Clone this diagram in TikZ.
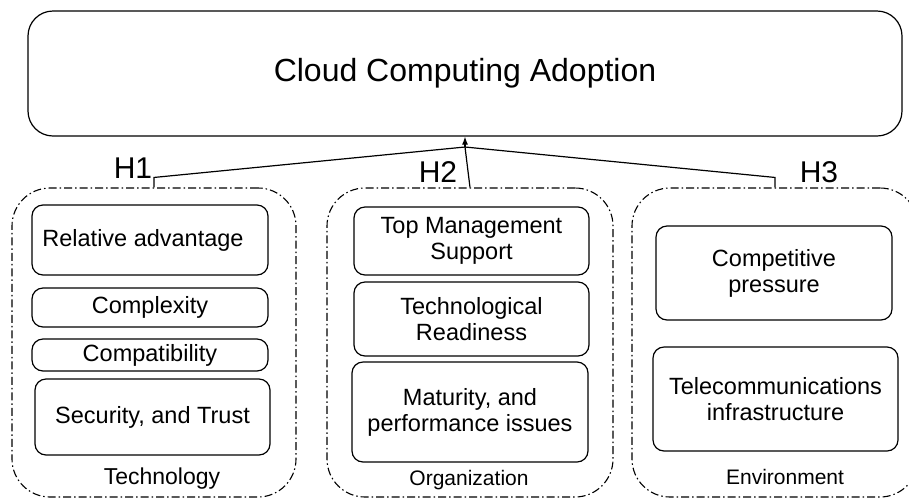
\documentclass[tikz,border=0pt]{standalone}
\usepackage{fontspec}
\setmainfont{Liberation Sans}
\usetikzlibrary{arrows.meta}
\tikzset{
  item/.style={rectangle,rounded corners=11pt,draw,line width=1.2pt,align=center,inner sep=0pt,
    font=\fontsize{23.5pt}{26pt}\selectfont},
  group/.style={rectangle,rounded corners=38pt,draw,line width=1.1pt,
    dash pattern=on 8pt off 3pt on 1.5pt off 3pt,minimum height=309pt,inner sep=0pt},
  hyp/.style={font=\fontsize{30pt}{32pt}\selectfont},
}
\begin{document}
\begin{tikzpicture}[x=1pt,y=-1pt]
        %\draw [very thin, green]  (0,0) grid[step=50] (909,499);
        \useasboundingbox (0,0) rectangle (909,499);
        \node at (465,73.5) [rectangle,rounded corners=25pt,draw,line width=1.2pt,minimum width=874pt,minimum height=125pt,
            font=\fontsize{32pt}{34pt}\selectfont] (cca) {Cloud Computing Adoption};

        \node at (154,342.5) [group,minimum width=284pt] (tech) {};
        \node at (470,342.5) [group,minimum width=286pt] (org) {};
        \node at (775,342.5) [group,minimum width=286pt] (env) {};

        \node at (150,240) [item,minimum width=236pt,minimum height=70pt] (ra) {Relative advantage\hspace{14pt}};
        \node at (150,307.5) [item,minimum width=236pt,minimum height=39pt] (cx) {Complexity};
        \node at (150,355) [item,minimum width=236pt,minimum height=32pt] (cp) {Compatibility};
        \node at (152.5,417) [item,minimum width=235pt,minimum height=76pt] (st) {Security, and Trust};
        \node at (162,479) [font=\fontsize{23pt}{25pt}\selectfont] (techl) {Technology};

        \node at (471.5,241) [item,minimum width=235pt,minimum height=68pt] (tms) {Top Management\\Support};
        \node at (471.5,319) [item,minimum width=235pt,minimum height=74pt] (tr) {Technological\\Readiness};
        \node at (470,412) [item,minimum width=236pt,minimum height=100pt] (mp) {Maturity, and\\performance issues};
        \node at (469,480) [font=\fontsize{21pt}{23pt}\selectfont] (orgl) {Organization};

        \node at (774,273) [item,minimum width=236pt,minimum height=94pt] (cpr) {Competitive\\pressure};
        \node at (775.5,399) [item,minimum width=245pt,minimum height=104pt] (ti) {Telecommunications\\infrastructure};
        \node at (785,477) [font=\fontsize{21pt}{23pt}\selectfont] (envl) {Environment};

        \coordinate (apex) at (465,147);
        \draw [line width=1.2pt] (tech.north) -- ++(0,-10) -- (apex);
        \draw [line width=1.2pt] (org.north) -- (apex);
        \draw [line width=1.2pt] (env.north) -- ++(0,-10) -- (apex);
        \draw [line width=1.2pt,-{Latex[length=8pt,width=6pt]}] (apex) -- (cca.south -| apex);

        \node at (133,168) [hyp] (h1) {H1};
        \node at (438,172) [hyp] (h2) {H2};
        \node at (819,172) [hyp] (h3) {H3};
    \end{tikzpicture}
\end{document}
